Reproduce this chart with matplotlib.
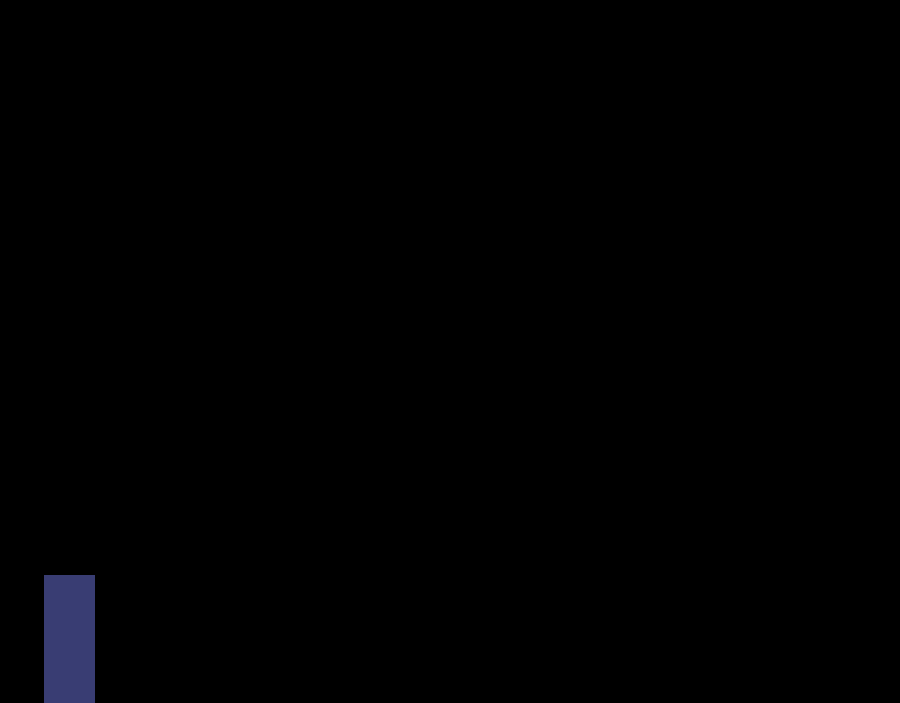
''' Single bar on black background '''
import matplotlib
matplotlib.use("Agg")
import matplotlib.pyplot as plt

# data
categories = ["A"]
values = [18.2]

fig = plt.figure(figsize=(9, 7.03), dpi=100, facecolor="black")
ax = fig.add_axes([0, 0, 1, 1], facecolor="black")

ax.bar(range(len(categories)), values, width=1.0, color="#393d73")

# 1 data unit = 51 px, bar left edge at 44 px
ax.set_xlim(-0.5 - 44 / 51, -0.5 - 44 / 51 + 900 / 51)
ax.set_ylim(0, 100)
ax.axis("off")

fig.savefig("out.png", dpi=100, facecolor="black")
